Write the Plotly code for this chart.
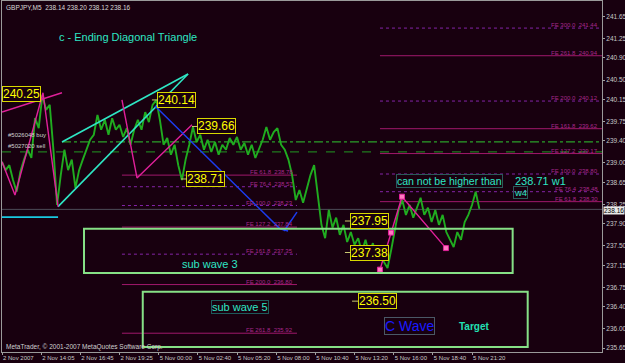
import plotly.graph_objects as go

# ---------------- data ----------------
bars = list(range(0, 391, 3))
price = [239.02, 238.87, 238.96, 238.69, 238.48, 238.84, 239.06, 239.24, 239.09, 239.81,
         239.63, 240.23, 239.96, 240.05, 239.24, 238.24, 238.78, 239.24, 238.87, 239.06,
         238.55, 238.87, 239.06, 239.24, 239.42, 239.51, 239.87, 239.60, 239.78, 239.51,
         239.81, 239.60, 239.69, 239.47, 239.63, 239.33, 239.60, 239.78, 239.60, 239.92,
         239.74, 240.05, 240.14, 239.78, 239.33, 239.45, 239.15, 239.33, 238.96, 238.69,
         239.06, 239.33, 239.65, 239.38, 239.51, 239.24, 239.42, 239.20, 239.38, 239.15,
         239.33, 239.24, 239.45, 239.33, 239.47, 239.24, 239.36, 239.15, 239.33, 239.09,
         239.27, 239.42, 239.65, 239.42, 239.56, 239.63, 239.33, 239.24, 239.06, 238.78,
         238.33, 238.51, 238.28, 238.51, 238.78, 238.96, 238.42, 237.88, 237.64, 238.15,
         237.83, 238.01, 237.70, 237.88, 237.57, 237.75, 237.52, 237.64, 237.39, 237.61,
         237.34, 237.55, 237.28, 237.43, 237.21, 237.10, 237.43, 237.79, 238.15, 238.33,
         238.06, 238.24, 238.01, 238.19, 238.37, 238.06, 238.19, 237.93, 238.15, 237.88,
         238.06, 237.75, 237.61, 237.48, 237.75, 237.61, 237.93, 238.06, 238.24, 238.48,
         238.17]

time_tick_bars = [0, 32, 64, 96, 128, 160, 192, 224, 256, 288, 320, 352, 384]
time_tick_labels = ["2 Nov 2007", "2 Nov 14:05", "2 Nov 16:45", "2 Nov 19:25", "5 Nov 00:00",
                    "5 Nov 02:40", "5 Nov 05:20", "5 Nov 08:00", "5 Nov 10:40", "5 Nov 13:20",
                    "5 Nov 16:00", "5 Nov 18:40", "5 Nov 21:20"]
price_ticks = [241.65, 241.25, 240.90, 240.50, 240.15, 239.75, 239.40, 239.00, 238.65,
               238.25, 237.90, 237.50, 237.15, 236.75, 236.40, 236.00, 235.65]
price_tick_labels = ["%.2f" % v for v in price_ticks]

x_range = [0, 490.2]
y_range = [235.58, 241.93]

header = "GBPJPY,M5  238.14 238.20 238.12 238.16"
last_price = 238.16
copyright_text = "MetaTrader, © 2001-2007 MetaQuotes Software Corp."

# yellow wave price labels
level_labels = ["240.14", "239.66", "238.71", "237.95", "237.38", "236.50"]
level_values = [240.14, 239.66, 238.71, 237.95, 237.38, 236.50]
level_bars = [122.5, 155.2, 146.2, 280.2, 280.2, 286.0]
first_label, first_value, first_bar = "240.25", 240.25, 0

# drawn objects
tri_upper_bars, tri_upper_price = [49.0, 152.0], [239.38, 240.61]
tri_lower_bars, tri_lower_price = [45.8, 152.0], [238.21, 240.61]
cyan_short_bars, cyan_short_price = [0, 45.8], [238.02, 238.02]
zz1_bars, zz1_price = [0, 10.6, 33.5, 45.8], [239.02, 238.42, 240.27, 238.21]
trend_bars, trend_price = [0, 49.0], [239.92, 240.27]
zz2_bars, zz2_price = [98.0, 110.3, 155.2], [240.14, 238.73, 239.69]
blue_bars, blue_price = [125.0, 227.1, 233.7], [240.03, 237.81, 237.77]
blue2_bars, blue2_price = [230.4, 241.0], [237.77, 238.11]
zz3_bars, zz3_price = [308.8, 317.8, 326.8, 362.7], [237.07, 237.74, 238.39, 237.46]

buy_level, buy_start = 239.38, 49.0
sell_level = 239.20

box_x0 = [67.0, 115.0]
box_x1 = [417.2, 429.5]
box_y0 = [237.01, 235.67]
box_y1 = [237.81, 236.67]

# Fibonacci expansion sets
fe_right_names = ["FE 61.8", "FE 76.4", "FE 100.0", "FE 127.2", "FE 161.8", "FE 200.0", "FE 261.8", "FE 300.0"]
fe_right_values = [238.30, 238.48, 238.80, 239.17, 239.62, 240.12, 240.94, 241.44]
fe_right_dotted = [False, True, True, False, False, True, False, True]
fe_right_span = [308.8, 490.2]
fe_left_names = ["FE 61.8", "FE 76.4", "FE 100.0", "FE 127.2", "FE 161.8", "FE 200.0", "FE 261.8"]
fe_left_values = [238.78, 238.57, 238.23, 237.84, 237.35, 236.80, 235.92]
fe_left_dotted = [False, True, True, False, True, False, False]
fe_left_span = [98.0, 241.0]

# ---------------- style ----------------
BG = "#18000f"
GREEN = "#20ac20"
CYAN = "#2ee6c4"
MAGENTA = "#e0209a"
BLUE = "#1c3cf0"
YELLOW = "#ffff00"
FE_SOLID = "#a0186c"
FE_DOT = "#8424a8"
FE_TEXT = "#a8288c"
AXIS_TXT = "#c8c8c8"
FONT = "Liberation Sans, Arial, sans-serif"

fig = go.Figure()

def line(xs, ys, color, width=1.5, dash="solid", **kw):
    fig.add_trace(go.Scatter(x=xs, y=ys, mode="lines", line=dict(color=color, width=width, dash=dash),
                             hoverinfo="skip", showlegend=False, **kw))

# horizontal reference lines
line([x_range[0], x_range[1]], [last_price, last_price], "#4c4c58", 1)
line([x_range[0], x_range[1]], [sell_level, sell_level], "#1f7a1f", 1.2, "dash")
line([buy_start, x_range[1]], [buy_level, buy_level], "#2aa02a", 1.2, "dashdot")

# FE lines
for vals, dotted, span in [(fe_right_values, fe_right_dotted, fe_right_span),
                           (fe_left_values, fe_left_dotted, fe_left_span)]:
    for v, d in zip(vals, dotted):
        line(span, [v, v], FE_DOT if d else FE_SOLID, 1, "dot" if d else "solid")

# green rectangles
for a, b, c, d in zip(box_x0, box_x1, box_y0, box_y1):
    fig.add_shape(type="rect", xref="x", yref="y", x0=a, x1=b, y0=c, y1=d,
                  line=dict(color="#86e086", width=2), fillcolor="rgba(0,0,0,0)")

# price
line(bars, price, GREEN, 1.9)

# drawings
line(tri_upper_bars, tri_upper_price, CYAN, 1.6)
line(tri_lower_bars, tri_lower_price, CYAN, 1.6)
line(cyan_short_bars, cyan_short_price, "#19c8e0", 1.6)
line(zz1_bars, zz1_price, MAGENTA, 1.4)
line(trend_bars, trend_price, MAGENTA, 1.4)
line(zz2_bars, zz2_price, MAGENTA, 1.4)
line(blue_bars, blue_price, BLUE, 1.5)
line(blue2_bars, blue2_price, BLUE, 1.5)
fig.add_trace(go.Scatter(x=zz3_bars, y=zz3_price, mode="lines+markers",
                         line=dict(color=MAGENTA, width=1.4),
                         marker=dict(symbol="square", size=5, color="#ff7ac0",
                                     line=dict(color=MAGENTA, width=1)),
                         hoverinfo="skip", showlegend=False))

ann = []
# FE labels
for names, vals, span in [(fe_right_names, fe_right_values, fe_right_span),
                          (fe_left_names, fe_left_values, fe_left_span)]:
    for n, v in zip(names, vals):
        ann.append(dict(x=span[1] - 1.5, y=v, xref="x", yref="y", text=n + "\u00a0\u00a0%.2f" % v,
                        showarrow=False, xanchor="right", yanchor="bottom", yshift=-2,
                        font=dict(size=6, color=FE_TEXT, family=FONT)))

# yellow price labels
box_style = dict(font=dict(size=12, color=YELLOW, family=FONT), bordercolor="#d8d800",
                 borderwidth=1, borderpad=0, bgcolor=BG)
ann.append(dict(x=first_bar, y=first_value, xref="x", yref="y", text=first_label,
                showarrow=False, xanchor="left", **box_style))
for t, v, b in zip(level_labels, level_values, level_bars):
    ann.append(dict(x=b, y=v, xref="x", yref="y", text=t, showarrow=True, arrowhead=0,
                    arrowwidth=1, arrowcolor="#c8c870", ax=25, ay=0, **box_style))

# text notes
ann.append(dict(x=103, y=241.28, xref="x", yref="y", text="c - Ending Diagonal Triangle",
                showarrow=False, font=dict(size=11, color=CYAN, family=FONT)))
ann.append(dict(x=170, y=237.17, xref="x", yref="y", text="sub wave 3",
                showarrow=False, font=dict(size=11, color=CYAN, family=FONT)))
ann.append(dict(x=194.4, y=236.40, xref="x", yref="y", text="sub wave 5", showarrow=False,
                font=dict(size=11, color=CYAN, family=FONT), bordercolor="#1e5a5a",
                borderwidth=1, borderpad=0))
ann.append(dict(x=333.3, y=236.05, xref="x", yref="y", text="C Wave", showarrow=False,
                font=dict(size=14, color="#1a1aff", family=FONT), bordercolor="#4a5866",
                borderwidth=1, borderpad=0))
ann.append(dict(x=385.6, y=236.05, xref="x", yref="y", text="<b>Target</b>", showarrow=False,
                font=dict(size=10, color="#22e0b4", family=FONT)))
ann.append(dict(x=322, y=238.68, xref="x", yref="y", text="can not be higher than",
                showarrow=False, xanchor="left", font=dict(size=10.5, color=CYAN, family=FONT),
                bordercolor="#2a5a5a", borderwidth=1, borderpad=0))
ann.append(dict(x=417.5, y=238.68, xref="x", yref="y", text="238.71 w1",
                showarrow=False, xanchor="left", font=dict(size=11, color=CYAN, family=FONT)))
ann.append(dict(x=417.5, y=238.46, xref="x", yref="y", text="w4", showarrow=False,
                xanchor="left", font=dict(size=9.5, color=CYAN, family=FONT),
                bordercolor="#2a5a5a", borderwidth=1, borderpad=0))
ann.append(dict(x=3, y=239.42, xref="x", yref="y", text="#5026048 buy", showarrow=False,
                xanchor="left", yanchor="bottom", font=dict(size=6, color="#d0d0d0", family=FONT)))
ann.append(dict(x=3, y=239.22, xref="x", yref="y", text="#5027020 sell", showarrow=False,
                xanchor="left", yanchor="bottom", font=dict(size=6, color="#d0d0d0", family=FONT)))
ann.append(dict(x=0.003, y=0.998, xref="paper", yref="paper", text=header, showarrow=False,
                xanchor="left", yanchor="top", font=dict(size=6.5, color="#d8d8d8", family=FONT)))
ann.append(dict(x=0.003, y=0.0, xref="paper", yref="paper", text=copyright_text, showarrow=False,
                xanchor="left", yanchor="bottom", yshift=-1,
                font=dict(size=6.5, color="#d0d0d0", family=FONT)))
ann.append(dict(x=1.0, y=last_price, xref="paper", yref="y", text="%.2f" % last_price,
                showarrow=False, xanchor="left", xshift=1, yshift=-1, bgcolor="#e8e8e8", borderpad=0,
                font=dict(size=6.5, color="#000000", family=FONT)))

fig.update_layout(
    width=625, height=363,
    margin=dict(l=2, r=23, t=1, b=11, autoexpand=False),
    paper_bgcolor=BG, plot_bgcolor=BG,
    showlegend=False,
    annotations=ann,
    xaxis=dict(range=x_range, tickvals=time_tick_bars, ticktext=time_tick_labels,
               ticklabelposition="outside right", ticks="outside", ticklen=2, tickangle=0,
               automargin=False,
               tickcolor="#a0a0a0", tickfont=dict(size=6, color=AXIS_TXT, family=FONT),
               showgrid=False, zeroline=False, showline=True, linecolor="#9a9a9a",
               linewidth=1, mirror=True, fixedrange=True),
    yaxis=dict(range=y_range, side="right", tickvals=price_ticks, ticktext=price_tick_labels,
               ticks="outside", ticklen=2, tickcolor="#a0a0a0", automargin=False,
               tickfont=dict(size=6.5, color=AXIS_TXT, family=FONT),
               showgrid=False, zeroline=False, showline=True, linecolor="#9a9a9a",
               linewidth=1, mirror=True, fixedrange=True),
)

fig.write_html("out.html", config={"displayModeBar": False})
